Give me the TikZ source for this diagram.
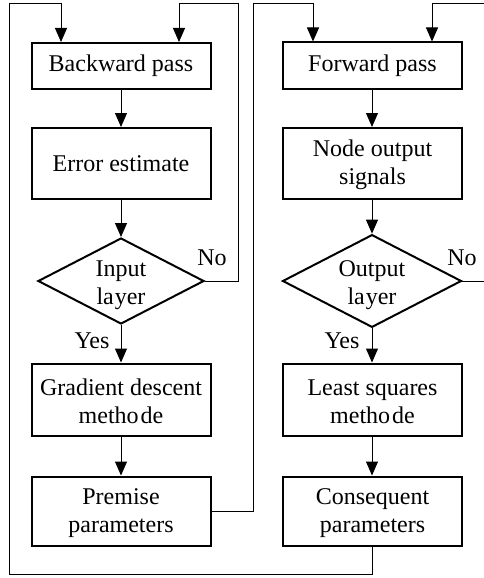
\documentclass[tikz,border=0pt]{standalone}
\usepackage{fontspec}
\setmainfont{Liberation Serif}
\usetikzlibrary{shapes.geometric,arrows.meta}

\begin{document}
\begin{tikzpicture}[x=1pt,y=-1pt,
  txt/.style={font=\fontsize{24}{28}\selectfont},
  box/.style={txt, draw, line width=2pt, minimum width=179pt, align=center, inner sep=0pt},
  decision/.style={txt, diamond, draw, line width=2pt, minimum width=166pt,
    minimum height=86pt, shape aspect=1.93, inner sep=0pt, align=center},
  flow/.style={line width=1pt, -{Triangle[width=12pt,length=14pt]}},
  link/.style={line width=1pt},
  lbl/.style={txt, inner sep=0pt}
]
\useasboundingbox (0,0) rectangle (484,578);

% backward pass column
\node[box, minimum height=46pt] (bp) at (121,66) {Backward pass};
\node[box, minimum height=71pt] (ee) at (121,163.5) {Error estimate};
\node[decision] (il) at (121,281) {\rule{0pt}{25pt}Input\\la\kern1pt yer};
\node[box, minimum height=72pt] (gd) at (121,399.5) {\rule{0pt}{20pt}Gradient descent\\metho\kern2pt de};
\node[box, minimum height=69pt] (pp) at (121,511) {\rule{0pt}{21pt}Premise\\parameters};

% forward pass column
\node[box, minimum height=46pt] (fp) at (372.5,65.5) {Forward pass};
\node[box, minimum height=71pt] (no) at (372.5,163.5) {\rule{0pt}{20pt}Node output\\signals};
\node[decision, minimum width=164pt] (ol) at (372,281) {\rule{0pt}{25pt}Output\\la\kern1pt yer};
\node[box, minimum height=72pt] (ls) at (372.5,399.5) {\rule{0pt}{20pt}Least squares\\metho\kern2pt de};
\node[box, minimum height=69pt] (cp) at (372.5,511) {\rule{0pt}{21pt}Consequent\\parameters};

% branch labels
\node[lbl] (noL) at (212,258) {No};
\node[lbl] (noR) at (462,258) {No};
\node[lbl] (yesL) at (92,341) {Yes};
\node[lbl] (yesR) at (342,341) {Yes};

% routing points of the feedback loops
\coordinate (topL) at (9,4);
\coordinate (botL) at (9,574);
\coordinate (inBP) at (61,0);
\coordinate (loopL) at (238,4);
\coordinate (inBP2) at (179,0);
\coordinate (loopM) at (253,4);
\coordinate (inFP) at (313,0);
\coordinate (inFP2) at (432,0);
\coordinate (edgeR) at (484,0);

% main flow, left
\draw[flow] (bp) -- (ee);
\draw[flow] (ee) -- (il);
\draw[flow] (il) -- (gd);
\draw[flow] (gd) -- (pp);

% main flow, right
\draw[flow] (ol.north |- fp.south) -- (ol.north |- no.north);
\draw[flow] (ol.north |- no.south) -- (ol.north);
\draw[flow] (ol.south) -- (ol.south |- ls.north);
\draw[flow] (ol.south |- ls.south) -- (ol.south |- cp.north);

% loops
\draw[flow] (il.east) -| (loopL) -| (bp.north -| inBP2);
\draw[flow] (pp.east) -| (loopM) -| (fp.north -| inFP);
\draw[flow] (cp.south -| ol.south) -- (botL -| ol.south) -| (topL) -| (bp.north -| inBP);
\draw[link] (ol.east) -- (ol.east -| edgeR);
\draw[flow] (edgeR |- loopL) -| (fp.north -| inFP2);
\end{tikzpicture}
\end{document}
